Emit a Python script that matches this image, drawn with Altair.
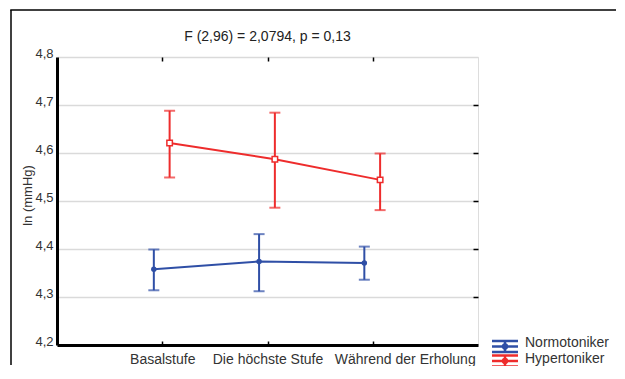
import json
import altair as alt
import pandas as pd

categories = ["Basalstufe", "Die höchste Stufe", "Während der Erholung"]
series_names = ["Normotoniker", "Hypertoniker"]
normo_mean = [4.358, 4.374, 4.371]
normo_lo = [4.314, 4.312, 4.336]
normo_hi = [4.399, 4.431, 4.405]
hyper_mean = [4.621, 4.587, 4.544]
hyper_lo = [4.549, 4.486, 4.481]
hyper_hi = [4.688, 4.684, 4.599]
y_ticks = [4.2, 4.3, 4.4, 4.5, 4.6, 4.7, 4.8]
title_text = "F (2,96) = 2,0794, p = 0,13"
y_title = "ln (mmHg)"

BLUE = "#2f4fa6"
RED = "#ee2c2c"
FONT = "Liberation Sans"
offsets = {"Normotoniker": -0.08, "Hypertoniker": 0.07}

rows = []
for name, m, lo, hi in [("Normotoniker", normo_mean, normo_lo, normo_hi),
                        ("Hypertoniker", hyper_mean, hyper_lo, hyper_hi)]:
    for i, c in enumerate(categories):
        rows.append({"cat": c, "idx": i + 1, "series": name,
                     "mean": m[i], "lo": lo[i], "hi": hi[i],
                     "pos": i + 1 + offsets[name]})
df = pd.DataFrame(rows)

color = alt.Color("series:N", scale=alt.Scale(domain=series_names, range=[BLUE, RED]), legend=None)
xscale = alt.Scale(domain=[0, 4], nice=False, zero=False)
yscale = alt.Scale(domain=[4.2, 4.8], nice=False, zero=False)

cat_expr = json.dumps(categories) + "[datum.value - 1]"

base = alt.Chart(df)

lines = base.mark_line(strokeWidth=2).encode(
    x=alt.X("pos:Q", scale=xscale, axis=alt.Axis(
        orient="bottom", values=[1, 2, 3], labelExpr=cat_expr, ticks=False,
        labelOverlap=False,
        labelOffset={"condition": {"test": "datum.value == 3", "value": 32}, "value": 0},
        domainColor="#000", domainWidth=3, labelPadding=7, labelFont=FONT,
        labelFontSize=14, labelColor="#333", title=None, grid=False)),
    y=alt.Y("mean:Q", scale=yscale, axis=alt.Axis(
        orient="left", values=y_ticks, labelExpr="replace(format(datum.value, '.1f'), '.', ',')",
        ticks=False, domainColor="#000", domainWidth=3, labelPadding=4, labelOffset=-4,
        labelFont=FONT, labelFontSize=13, labelColor="#333",
        grid=True, gridColor="#dadada", gridWidth=1.5,
        title=y_title, titleFont=FONT, titleFontSize=13, titleFontWeight="normal",
        titleColor="#333", titleX=-30, titleY=138, titleBaseline="middle")),
    color=color,
    detail="series:N",
)

rules = base.mark_rule(strokeWidth=2).encode(
    x=alt.X("pos:Q", scale=xscale, axis=alt.Axis(
        orient="bottom", offset=-4, values=[1, 2, 3], tickSize=4, tickColor="#000",
        tickWidth=1.5, labels=False, domain=False, grid=False, title=None)),
    y=alt.Y("lo:Q", scale=yscale, axis=alt.Axis(
        orient="right", offset=-5, values=[4.3, 4.4, 4.5, 4.6, 4.7], tickSize=5,
        tickColor="#000", tickWidth=1.5, labels=False, domain=False, grid=False, title=None)),
    y2="hi:Q",
    color=color,
)

caps_lo = base.mark_tick(orient="horizontal", size=11, thickness=2).encode(
    x=alt.X("pos:Q", scale=xscale, axis=alt.Axis(
        orient="top", offset=-4, values=[1, 2, 3], tickSize=4, tickColor="#000",
        tickWidth=1.5, labels=False, domain=False, grid=False, title=None)),
    y=alt.Y("lo:Q", scale=yscale, axis=None),
    color=color,
)
caps_hi = base.mark_tick(orient="horizontal", size=11, thickness=2).encode(
    x=alt.X("pos:Q", scale=xscale, axis=None),
    y=alt.Y("hi:Q", scale=yscale, axis=None),
    color=color,
)

pts_n = alt.Chart(df[df.series == "Normotoniker"]).mark_point(
    shape="circle", filled=True, size=30, opacity=1, color=BLUE).encode(
    x=alt.X("pos:Q", scale=xscale, axis=None),
    y=alt.Y("mean:Q", scale=yscale, axis=None),
)
pts_h = alt.Chart(df[df.series == "Hypertoniker"]).mark_point(
    shape="square", filled=False, size=30, strokeWidth=1.5, opacity=1, color=RED,
    fill="white", fillOpacity=1).encode(
    x=alt.X("pos:Q", scale=xscale, axis=None),
    y=alt.Y("mean:Q", scale=yscale, axis=None),
)

one = pd.DataFrame({"a": [0]})

# outer figure border: left edge as a rule, top edge as a thin rect
frame_top = alt.Chart(one).mark_rect(color="#000").encode(
    x=alt.value(-46.75), x2=alt.value(559), y=alt.value(-47.75), y2=alt.value(-46.25))
frame_left = alt.Chart(one).mark_rule(color="#000", strokeWidth=1.5).encode(
    x=alt.value(-46), y=alt.value(-47), y2=alt.value(308))

title_mark = alt.Chart(one).mark_text(
    text=title_text, align="center", baseline="middle", font=FONT, fontSize=14,
    color="#222").encode(x=alt.value(210.5), y=alt.value(-20))


def glyph(cx, cy, col, half=13, gap=5.5):
    parts = []
    for dy in (-gap, 0, gap):
        parts.append(alt.Chart(one).mark_rule(color=col, strokeWidth=2.5).encode(
            x=alt.value(cx - half), x2=alt.value(cx + half),
            y=alt.value(cy + dy)))
    parts.append(alt.Chart(one).mark_rule(color=col, strokeWidth=2.5).encode(
        x=alt.value(cx), y=alt.value(cy - gap), y2=alt.value(cy + gap)))
    parts.append(alt.Chart(one).mark_point(shape="circle", filled=True, size=40,
                                           opacity=1, color=col).encode(
        x=alt.value(cx), y=alt.value(cy)))
    return parts


legend_parts = glyph(448, 289.5, BLUE) + glyph(448, 304, RED)
legend_text = []
for i, name in enumerate(series_names):
    legend_text.append(alt.Chart(one).mark_text(
        text=name, align="left", baseline="middle", font=FONT, fontSize=14,
        color="#333").encode(x=alt.value(468), y=alt.value(286 + 16 * i)))

chart = alt.layer(
    lines, rules, caps_lo, caps_hi, pts_n, pts_h, frame_top, frame_left, title_mark,
    *legend_parts, *legend_text
).resolve_axis(x="independent", y="independent").properties(
    width=421, height=288,
    autosize=alt.AutoSizeParams(type="none"),
    padding={"left": 49, "top": 49, "right": 139, "bottom": 21},
).configure_view(stroke="#000", strokeWidth=1.5).configure(background="white")

chart.save("out.html", embed_options={"renderer": "svg", "actions": False})
